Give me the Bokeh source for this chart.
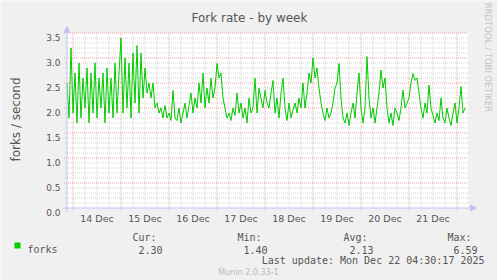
import math
from datetime import datetime, timedelta

from bokeh.plotting import figure
from bokeh.models import Arrow, NormalHead, Range1d
from bokeh.core.properties import value
from bokeh.embed import file_html
from bokeh.resources import INLINE

# ---------------- data ----------------
chart_title = "Fork rate - by week"
y_axis_label = "forks / second"
series_name = "forks"
start_time = datetime(2025, 12, 13, 21, 0)   # first sample, hourly samples
forks = [
    2.5, 1.8, 3.2, 1.9, 2.7, 1.7, 2.9, 1.8, 2.6, 2.0, 2.8, 1.7, 2.7, 1.9, 2.9, 1.8,
    2.6, 2.0, 2.7, 1.7, 2.8, 1.9, 2.6, 1.8, 2.9, 1.9, 2.7,
    3.4, 1.9, 3.0, 2.0, 2.9, 1.8, 3.1, 2.1, 3.25, 1.9, 3.1, 2.2, 2.8, 2.3, 2.5, 2.2,
    2.5, 2.0, 2.1, 1.9, 2.0, 1.8, 2.05, 1.8,
    1.9, 1.75, 2.35, 1.8, 1.75, 2.0, 1.7, 1.9, 2.1, 1.8, 2.05, 2.3, 1.9, 2.2, 2.0, 2.5,
    2.1, 2.7, 2.0, 2.4, 2.1, 2.6, 2.2, 2.4, 2.89,
    2.6, 2.7, 2.2, 2.0, 1.8, 1.9, 1.75, 2.0, 1.85, 2.3, 1.9, 2.1, 1.8, 2.0, 1.7, 2.2,
    1.9, 2.0, 2.6, 1.9, 2.4, 2.2, 2.0, 2.35, 2.1,
    2.0, 2.3, 2.55, 1.9, 2.2, 1.8, 2.3, 2.6, 2.0, 1.75, 2.1, 1.8, 1.95, 2.1, 1.9, 2.2,
    2.0, 2.5, 2.0, 2.3, 2.7, 2.5, 3.0, 2.6, 2.8,
    2.4, 2.1, 1.9, 1.75, 2.0, 1.8, 1.9, 2.1, 2.4, 2.5, 2.89, 2.2, 1.8, 1.7, 1.9, 1.65,
    1.9, 2.1, 1.8, 2.3, 2.7, 2.0, 1.7, 2.0, 3.03,
    2.2, 1.8, 2.0, 1.7, 2.0, 2.3, 2.76, 2.4, 2.6, 2.0, 1.7, 1.9, 1.65, 2.0, 1.9, 1.75,
    2.0, 2.36, 2.0, 2.1, 2.2, 2.5, 2.69, 2.55, 2.6,
    2.3, 2.0, 1.8, 2.1, 1.9, 2.46, 2.0, 1.85, 1.7, 1.9, 1.75, 2.2, 1.8, 1.7, 2.0, 1.8,
    1.65, 1.9, 2.1, 1.7, 2.0, 2.43, 1.9, 2.0,
]
day_labels = ["14 Dec", "15 Dec", "16 Dec", "17 Dec", "18 Dec", "19 Dec", "20 Dec", "21 Dec"]
day_numbers = [14, 15, 16, 17, 18, 19, 20, 21, 22]
y_ticks = [0.0, 0.5, 1.0, 1.5, 2.0, 2.5, 3.0, 3.5]
y_tick_labels = ["0.0", "0.5", "1.0", "1.5", "2.0", "2.5", "3.0", "3.5"]
stat_names = ["Cur:", "Min:", "Avg:", "Max:"]
stat_values = ["2.30", "1.40", "2.13", "6.59"]
last_update = "Last update: Mon Dec 22 04:30:17 2025"
footer = "Munin 2.0.33-1"
watermark = "RRDTOOL / TOBI OETIKER"

# ---------------- layout helpers ----------------
W, H = 497, 280
EPOCH = datetime(1970, 1, 1)
HOUR = 3600e3
def ms(d):
    return (d - EPOCH).total_seconds() * 1000.0

PX_PER_HOUR = 2.0
PX_PER_UNIT = 50.0
PX0 = 66.5      # canvas x of the first sample time
PY0 = 207.5     # canvas y of value 0

x0 = ms(start_time)
x_end = x0 + 200.5 * HOUR          # right edge of plot area
y_top = 3.5

def X(px):
    return x0 + (px - PX0) / PX_PER_HOUR * HOUR

def Y(py):
    return (PY0 - py) / PX_PER_UNIT

times = [ms(start_time + timedelta(hours=i)) for i in range(len(forks))]
midnights = [ms(datetime(2025, 12, d)) for d in day_numbers]
noons = [m + 12 * HOUR for m in midnights[:-1]]
six_hours = []
for m in [midnights[0] - 24 * HOUR] + midnights:
    for h in (6, 12, 18):
        t = m + h * HOUR
        if x0 < t < x_end:
            six_hours.append(t)
y_minor = [round(i * 0.1, 1) for i in range(1, 35) if i % 5 != 0]

BG = "#F0F0F0"
AXIS = "#C0C4F2"
MAJ = "#F0A0A0"
MIN = "#D2D2D2"
TXT = "#555555"
GREEN = "#00CC00"
SANS = value("DejaVu Sans")
MONO = value("DejaVu Sans Mono")

p = figure(width=W, height=H,
           x_range=Range1d(X(0), X(W)), y_range=Range1d(Y(H), Y(0)),
           x_axis_location=None, y_axis_location=None,
           output_backend="svg", toolbar_location=None, min_border=0)
p.background_fill_color = BG
p.border_fill_color = BG
p.outline_line_color = None
p.grid.visible = False

# white plot area
p.quad(left=[x0], right=[x_end], bottom=[0], top=[y_top],
       fill_color="white", line_color=None)

# grid: minor then major
p.segment(x0=six_hours, y0=[0] * len(six_hours), x1=six_hours, y1=[y_top] * len(six_hours),
          line_color=MIN, line_dash="1 1", line_width=1)
p.segment(x0=[X(PX0 - 2)] * len(y_minor), y0=y_minor, x1=[x_end] * len(y_minor), y1=y_minor,
          line_color=MIN, line_dash="1 1", line_width=1)
mid_in = [m for m in midnights if x0 < m < x_end]
p.segment(x0=mid_in, y0=[Y(PY0 + 2)] * len(mid_in), x1=mid_in, y1=[y_top] * len(mid_in),
          line_color=MAJ, line_dash="1 1", line_width=1)
ymaj = y_ticks[1:]
p.segment(x0=[X(PX0 - 3)] * len(ymaj), y0=ymaj, x1=[x_end] * len(ymaj), y1=ymaj,
          line_color=MAJ, line_dash="1 1", line_width=1)

# data line
p.line(times, forks, line_color=GREEN, line_width=1)

# axes with arrows
p.add_layout(Arrow(end=NormalHead(size=6, fill_color=AXIS, line_color=AXIS),
                   x_start=x0, y_start=Y(PY0 + 4), x_end=x0, y_end=Y(26),
                   line_color=AXIS, line_width=1))
p.add_layout(Arrow(end=NormalHead(size=6, fill_color=AXIS, line_color=AXIS),
                   x_start=X(62), y_start=0, x_end=X(476), y_end=0,
                   line_color=AXIS, line_width=1))

# tick labels
p.text(x=[X(60)] * len(y_ticks), y=[t - 4.3 / PX_PER_UNIT for t in y_ticks], text=y_tick_labels,
       text_font=SANS, text_font_size="9px", text_color=TXT,
       text_align="right", text_baseline="alphabetic")
p.text(x=noons, y=[Y(218)] * len(noons), text=day_labels,
       text_font=SANS, text_font_size="9.5px", text_color=TXT,
       text_align="center", text_baseline="alphabetic")

def put(text, px, py, size, color=TXT, font=SANS, align="left", angle=0.0):
    p.text(x=[X(px)], y=[Y(py)], text=[text], text_font=font, text_font_size=size,
           text_color=color, text_align=align, text_baseline="alphabetic", angle=angle)

put(chart_title, 249, 17, "12px", align="center")
put(y_axis_label, 15, 119, "12px", align="center", angle=math.pi / 2)
put(watermark, 487, 57, "8.5px", color="#C4C4C4", align="center", angle=-math.pi / 2)

# legend
p.quad(left=[X(14)], right=[X(20)], top=[Y(242)], bottom=[Y(248)],
       fill_color=GREEN, line_color=None)
put(series_name, 27, 249, "10px", font=MONO)
for name, val, lx in zip(stat_names, stat_values, [132, 237, 343, 447]):
    put(name, lx, 237, "10px", font=MONO)
    put(val, lx + 6, 249, "10px", font=MONO)
put(last_update, 484, 260, "10px", font=MONO, align="right")
put(footer, 248, 272, "8px", color="#BBBBBB", align="center")

open("out.html", "w").write(file_html(p, INLINE))
